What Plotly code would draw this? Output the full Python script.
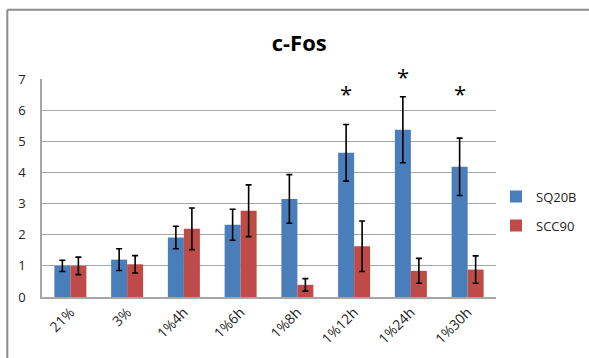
import plotly.graph_objects as go

categories = ["21%", "3%", "1%4h", "1%6h", "1%8h", "1%12h", "1%24h", "1%30h"]
sq20b = [1.00, 1.20, 1.91, 2.32, 3.15, 4.63, 5.37, 4.18]
sq20b_err = [0.18, 0.35, 0.36, 0.50, 0.78, 0.91, 1.06, 0.92]
scc90 = [1.00, 1.05, 2.19, 2.77, 0.39, 1.63, 0.84, 0.88]
scc90_err = [0.28, 0.28, 0.67, 0.83, 0.20, 0.81, 0.40, 0.44]
star_groups = ["1%12h", "1%24h", "1%30h"]
star_y = [6.69, 7.24, 6.69]
Y_MAX = 7

FONT = "Open Sans"
fig = go.Figure()
fig.add_trace(go.Bar(
    x=categories, y=sq20b, name="SQ20B", legendgroup="a",
    marker=dict(color="#4A7EBB", line=dict(width=0)),
    error_y=dict(type="data", array=sq20b_err, color="black", thickness=1.6, width=3),
))
fig.add_trace(go.Bar(
    x=categories, y=scc90, name="SCC90", legendgroup="b",
    marker=dict(color="#BE4B48", line=dict(width=0)),
    error_y=dict(type="data", array=scc90_err, color="black", thickness=1.6, width=3),
))

for g, yv in zip(star_groups, star_y):
    fig.add_annotation(x=g, y=yv / Y_MAX, xref="x", yref="paper", text="*", showarrow=False,
                       xanchor="center", yanchor="middle",
                       xshift=-8, yshift=-4, font=dict(size=22, color="black", family=FONT))

# outer chart frame (top and left edges)
fig.add_shape(type="line", xref="paper", yref="paper", x0=-0.0764, x1=1.3, y0=1.318, y1=1.318,
              line=dict(color="#8c8c8c", width=2))
fig.add_shape(type="line", xref="paper", yref="paper", x0=-0.0764, x1=-0.0764, y0=-0.4, y1=1.318,
              line=dict(color="#8c8c8c", width=2))

fig.update_layout(
    width=589, height=358,
    margin=dict(l=42, r=93, t=79, b=61, autoexpand=False),
    paper_bgcolor="white", plot_bgcolor="white",
    barmode="group", bargap=0.436, bargroupgap=0,
    title=dict(text="<b>c-Fos</b>", x=0.508, xanchor="center", y=0.88, yanchor="middle",
               font=dict(size=22, color="black", family=FONT)),
    font=dict(family=FONT, size=12, color="#222"),
    legend=dict(x=1.0, y=0.394, xanchor="left", yanchor="middle",
                font=dict(size=13, color="#222", family=FONT), tracegroupgap=9,
                itemwidth=30, bgcolor="rgba(0,0,0,0)"),
    showlegend=True,
)
fig.update_yaxes(range=[0, Y_MAX], dtick=1, showgrid=True, gridcolor="#a6a6a6", gridwidth=1,
                 showline=True, linecolor="#a6a6a6", linewidth=1.5, ticks="", zeroline=False,
                 tickfont=dict(size=13, color="#222"), ticklabelstandoff=12, automargin=False)
fig.update_xaxes(showline=True, linecolor="#a6a6a6", linewidth=1.5, ticks="", tickangle=-45,
                 tickfont=dict(size=14, color="#222"), showgrid=False, automargin=False)

fig.write_html("out.html", config={"displayModeBar": False},
               post_script="document.body.style.margin='0';")
